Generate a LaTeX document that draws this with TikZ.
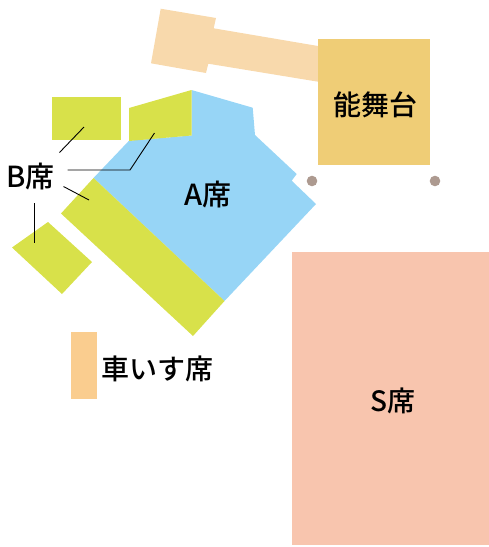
\documentclass[tikz,border=0pt]{standalone}
\usepackage{fontspec}
\newfontfamily\jp{Noto Sans CJK JP Medium}
\definecolor{seatb}{HTML}{D8E14A}
\definecolor{seata}{HTML}{97D5F6}
\definecolor{hall}{HTML}{F8D9AC}
\definecolor{stage}{HTML}{EFCD76}
\definecolor{wheel}{HTML}{FACD8F}
\definecolor{seats}{HTML}{F8C5AE}
\definecolor{pillar}{HTML}{AD9A90}
\tikzset{
  lbl/.style={font=\jp\fontsize{#1}{#1}\selectfont, text=black, inner sep=0pt, anchor=center},
  leader/.style={draw=black, line width=0.9pt},
}
\begin{document}
\begin{tikzpicture}[x=1pt,y=-1pt]
\useasboundingbox (0,0) rectangle (489,547);
% tan bridge
\fill[hall] (160.7,8.7) -- (216,18) -- (213.7,28.3) -- (318,46) -- (318,81.7) -- (208.3,63.7) -- (206,73) -- (151,63.3) -- cycle;
% stage
\fill[stage] (318,39) rectangle (430,165);
% A seats
\fill[seata] (191.5,90) -- (252.7,107.7) -- (255,135) -- (296.7,174) -- (291.7,180.7) -- (316,204) -- (224.5,301) -- (93.5,178) -- (129,140.7) -- (191.5,135.5) -- cycle;
% B seats
\fill[seatb] (52,97) rectangle (121,140);
\fill[seatb] (129,108) -- (191.5,90) -- (191.5,135.5) -- (129,141) -- cycle;
\fill[seatb] (93.5,178) -- (224.5,301) -- (193,336) -- (61,213.5) -- cycle;
\fill[seatb] (48,222) -- (92,262) -- (62,294) -- (12,247.5) -- cycle;
% wheelchair
\fill[wheel] (71,332) rectangle (97,399);
% S seats
\fill[seats] (292,252) rectangle (489,545);
% pillars
\fill[pillar] (312,181) circle (5.3);
\fill[pillar] (435,181) circle (5.3);
% labels
\node[lbl=28] (noh) at (375.5,104.5) {能舞台};
\node[lbl=29] (aseat) at (208,194.5) {A席};
\node[lbl=29] (bseat) at (30.5,176.5) {B席};
\node[lbl=28] (sseat) at (393,400.5) {S席};
\node[lbl=28] (wlabel) at (157.5,368.5) {車いす席};
% leaders
\coordinate (b1a) at (59.5,152.5); \coordinate (b1b) at (84,127);
\coordinate (b2a) at (67.5,170); \coordinate (b2m) at (130,170); \coordinate (b2b) at (154.5,133);
\coordinate (b3a) at (63.5,186.5); \coordinate (b3b) at (89,200);
\coordinate (b4a) at (34,203); \coordinate (b4b) at (34,243);
\draw[leader] (b1a) -- (b1b);
\draw[leader] (b2a) -- (b2m) -- (b2b);
\draw[leader] (b3a) -- (b3b);
\draw[leader] (b4a) -- (b4b);
\end{tikzpicture}
\end{document}
